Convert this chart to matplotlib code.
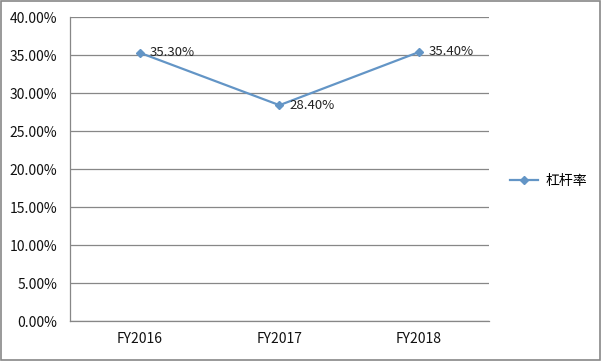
import matplotlib
matplotlib.use('Agg')
import matplotlib.pyplot as plt
from matplotlib.patches import Rectangle
from matplotlib.ticker import FuncFormatter

plt.rcParams['font.family'] = ['Noto Sans CJK SC', 'DejaVu Sans']

# data
years = ['FY2016', 'FY2017', 'FY2018']
leverage = [35.30, 28.40, 35.40]
series_name = '杠杆率'

line_color = '#6395C6'
grid_color = '#878787'

fig = plt.figure(figsize=(6.01, 3.61), dpi=100)
ax = fig.add_axes([0.1165, 0.1108, 0.697, 0.842])

x = list(range(len(years)))
ax.plot(x, leverage, color=line_color, lw=1.6, marker='D', ms=4,
        label=series_name, zorder=3)
for xi, v in zip(x, leverage):
    ax.annotate('%.2f%%' % v, (xi, v), xytext=(7, 0), textcoords='offset points',
                ha='left', va='center', fontsize=9.5, color='#222222')

ax.set_xlim(-0.5, 2.5)
ax.set_ylim(0, 40)
ax.set_yticks([0, 5, 10, 15, 20, 25, 30, 35, 40])
ax.yaxis.set_major_formatter(FuncFormatter(lambda v, p: '%.2f%%' % v))
ax.set_xticks(x)
ax.set_xticklabels(years)
ax.tick_params(axis='both', length=0, labelsize=10, colors='#111111')
ax.tick_params(axis='y', pad=9)
ax.tick_params(axis='x', pad=8)
ax.grid(axis='y', color=grid_color, lw=0.9)
ax.set_axisbelow(True)
for s in ['top', 'right']:
    ax.spines[s].set_visible(False)
for s in ['left', 'bottom']:
    ax.spines[s].set_color(grid_color)
    ax.spines[s].set_linewidth(0.9)

ax.legend(loc='center left', bbox_to_anchor=(1.02, 0.46), frameon=False,
          fontsize=10, handlelength=2.0, handletextpad=0.6)

# outer border
fig.patches.append(Rectangle((0.001, 0.002), 0.997, 0.995, transform=fig.transFigure,
                             fill=False, edgecolor='#888888', lw=1.2))

fig.savefig('out.png', dpi=100)
